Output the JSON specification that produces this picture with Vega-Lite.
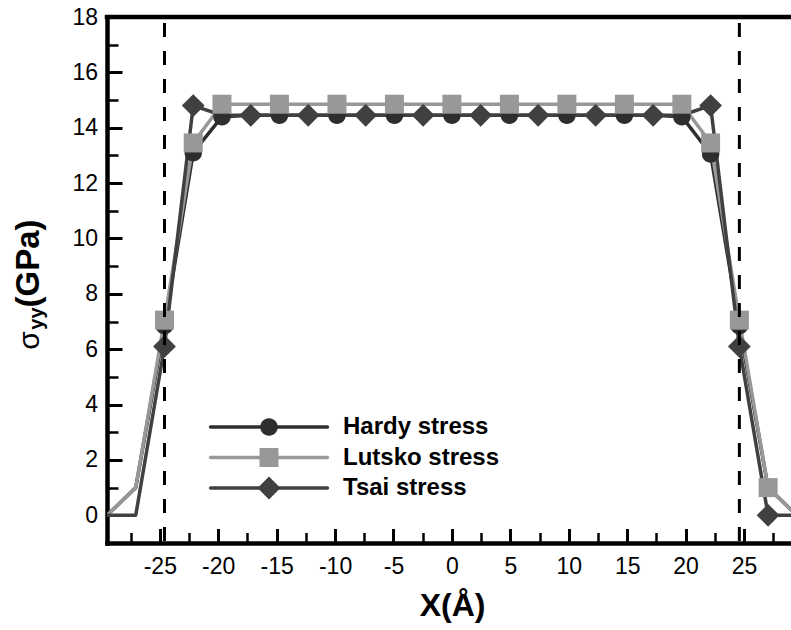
{
  "$schema": "https://vega.github.io/schema/vega-lite/v6.json",
  "width": 684,
  "height": 526,
  "autosize": {"type": "none"},
  "padding": {"left": 107, "top": 17, "right": 0, "bottom": 87},
  "background": "white",
  "config": {
    "view": {"stroke": null},
    "axis": {"grid": false, "labelFont": "Liberation Sans", "labelFontSize": 23, "labelColor": "black", "tickColor": "black", "domainColor": "black", "titleColor": "black"}
  },
  "datasets": {
    "curves": [
      {"series": "Hardy stress", "x": -29.52, "y": 0},
      {"series": "Hardy stress", "x": -27.06, "y": 1.0},
      {"series": "Hardy stress", "x": -24.6, "y": 6.85},
      {"series": "Hardy stress", "x": -22.14, "y": 13.1},
      {"series": "Hardy stress", "x": -19.68, "y": 14.4},
      {"series": "Hardy stress", "x": -17.22, "y": 14.45},
      {"series": "Hardy stress", "x": -14.76, "y": 14.45},
      {"series": "Hardy stress", "x": -12.3, "y": 14.45},
      {"series": "Hardy stress", "x": -9.84, "y": 14.45},
      {"series": "Hardy stress", "x": -7.38, "y": 14.45},
      {"series": "Hardy stress", "x": -4.92, "y": 14.45},
      {"series": "Hardy stress", "x": -2.46, "y": 14.45},
      {"series": "Hardy stress", "x": 0, "y": 14.45},
      {"series": "Hardy stress", "x": 2.46, "y": 14.45},
      {"series": "Hardy stress", "x": 4.92, "y": 14.45},
      {"series": "Hardy stress", "x": 7.38, "y": 14.45},
      {"series": "Hardy stress", "x": 9.84, "y": 14.45},
      {"series": "Hardy stress", "x": 12.3, "y": 14.45},
      {"series": "Hardy stress", "x": 14.76, "y": 14.45},
      {"series": "Hardy stress", "x": 17.22, "y": 14.45},
      {"series": "Hardy stress", "x": 19.68, "y": 14.4},
      {"series": "Hardy stress", "x": 22.14, "y": 13.05},
      {"series": "Hardy stress", "x": 24.6, "y": 6.85},
      {"series": "Hardy stress", "x": 27.06, "y": 1.0},
      {"series": "Hardy stress", "x": 29.52, "y": 0},
      {"series": "Lutsko stress", "x": -29.52, "y": 0},
      {"series": "Lutsko stress", "x": -27.06, "y": 1.0},
      {"series": "Lutsko stress", "x": -24.6, "y": 7.05},
      {"series": "Lutsko stress", "x": -22.14, "y": 13.45},
      {"series": "Lutsko stress", "x": -19.68, "y": 14.85},
      {"series": "Lutsko stress", "x": -17.22, "y": 14.85},
      {"series": "Lutsko stress", "x": -14.76, "y": 14.85},
      {"series": "Lutsko stress", "x": -12.3, "y": 14.85},
      {"series": "Lutsko stress", "x": -9.84, "y": 14.85},
      {"series": "Lutsko stress", "x": -7.38, "y": 14.85},
      {"series": "Lutsko stress", "x": -4.92, "y": 14.85},
      {"series": "Lutsko stress", "x": -2.46, "y": 14.85},
      {"series": "Lutsko stress", "x": 0, "y": 14.85},
      {"series": "Lutsko stress", "x": 2.46, "y": 14.85},
      {"series": "Lutsko stress", "x": 4.92, "y": 14.85},
      {"series": "Lutsko stress", "x": 7.38, "y": 14.85},
      {"series": "Lutsko stress", "x": 9.84, "y": 14.85},
      {"series": "Lutsko stress", "x": 12.3, "y": 14.85},
      {"series": "Lutsko stress", "x": 14.76, "y": 14.85},
      {"series": "Lutsko stress", "x": 17.22, "y": 14.85},
      {"series": "Lutsko stress", "x": 19.68, "y": 14.85},
      {"series": "Lutsko stress", "x": 22.14, "y": 13.45},
      {"series": "Lutsko stress", "x": 24.6, "y": 7.05},
      {"series": "Lutsko stress", "x": 27.06, "y": 1.0},
      {"series": "Lutsko stress", "x": 29.52, "y": 0},
      {"series": "Tsai stress", "x": -29.52, "y": 0},
      {"series": "Tsai stress", "x": -27.06, "y": 0},
      {"series": "Tsai stress", "x": -24.6, "y": 6.1},
      {"series": "Tsai stress", "x": -22.14, "y": 14.8},
      {"series": "Tsai stress", "x": -19.68, "y": 14.45},
      {"series": "Tsai stress", "x": -17.22, "y": 14.45},
      {"series": "Tsai stress", "x": -14.76, "y": 14.45},
      {"series": "Tsai stress", "x": -12.3, "y": 14.45},
      {"series": "Tsai stress", "x": -9.84, "y": 14.45},
      {"series": "Tsai stress", "x": -7.38, "y": 14.45},
      {"series": "Tsai stress", "x": -4.92, "y": 14.45},
      {"series": "Tsai stress", "x": -2.46, "y": 14.45},
      {"series": "Tsai stress", "x": 0, "y": 14.45},
      {"series": "Tsai stress", "x": 2.46, "y": 14.45},
      {"series": "Tsai stress", "x": 4.92, "y": 14.45},
      {"series": "Tsai stress", "x": 7.38, "y": 14.45},
      {"series": "Tsai stress", "x": 9.84, "y": 14.45},
      {"series": "Tsai stress", "x": 12.3, "y": 14.45},
      {"series": "Tsai stress", "x": 14.76, "y": 14.45},
      {"series": "Tsai stress", "x": 17.22, "y": 14.45},
      {"series": "Tsai stress", "x": 19.68, "y": 14.45},
      {"series": "Tsai stress", "x": 22.14, "y": 14.8},
      {"series": "Tsai stress", "x": 24.6, "y": 6.1},
      {"series": "Tsai stress", "x": 27.06, "y": 0},
      {"series": "Tsai stress", "x": 29.52, "y": 0}
    ],
    "symbols": [
      {"series": "Hardy stress", "x": -24.6, "y": 6.85},
      {"series": "Hardy stress", "x": -22.14, "y": 13.1},
      {"series": "Hardy stress", "x": -19.68, "y": 14.4},
      {"series": "Hardy stress", "x": -14.76, "y": 14.45},
      {"series": "Hardy stress", "x": -9.84, "y": 14.45},
      {"series": "Hardy stress", "x": -4.92, "y": 14.45},
      {"series": "Hardy stress", "x": 0, "y": 14.45},
      {"series": "Hardy stress", "x": 4.92, "y": 14.45},
      {"series": "Hardy stress", "x": 9.84, "y": 14.45},
      {"series": "Hardy stress", "x": 14.76, "y": 14.45},
      {"series": "Hardy stress", "x": 19.68, "y": 14.4},
      {"series": "Hardy stress", "x": 22.14, "y": 13.05},
      {"series": "Hardy stress", "x": 24.6, "y": 6.85},
      {"series": "Hardy stress", "x": 27.06, "y": 1.0},
      {"series": "Lutsko stress", "x": -24.6, "y": 7.05},
      {"series": "Lutsko stress", "x": -22.14, "y": 13.45},
      {"series": "Lutsko stress", "x": -19.68, "y": 14.85},
      {"series": "Lutsko stress", "x": -14.76, "y": 14.85},
      {"series": "Lutsko stress", "x": -9.84, "y": 14.85},
      {"series": "Lutsko stress", "x": -4.92, "y": 14.85},
      {"series": "Lutsko stress", "x": 0, "y": 14.85},
      {"series": "Lutsko stress", "x": 4.92, "y": 14.85},
      {"series": "Lutsko stress", "x": 9.84, "y": 14.85},
      {"series": "Lutsko stress", "x": 14.76, "y": 14.85},
      {"series": "Lutsko stress", "x": 19.68, "y": 14.85},
      {"series": "Lutsko stress", "x": 22.14, "y": 13.45},
      {"series": "Lutsko stress", "x": 24.6, "y": 7.05},
      {"series": "Lutsko stress", "x": 27.06, "y": 1.0},
      {"series": "Tsai stress", "x": -24.6, "y": 6.1},
      {"series": "Tsai stress", "x": -22.14, "y": 14.8},
      {"series": "Tsai stress", "x": -17.22, "y": 14.45},
      {"series": "Tsai stress", "x": -12.3, "y": 14.45},
      {"series": "Tsai stress", "x": -7.38, "y": 14.45},
      {"series": "Tsai stress", "x": -2.46, "y": 14.45},
      {"series": "Tsai stress", "x": 2.46, "y": 14.45},
      {"series": "Tsai stress", "x": 7.38, "y": 14.45},
      {"series": "Tsai stress", "x": 12.3, "y": 14.45},
      {"series": "Tsai stress", "x": 17.22, "y": 14.45},
      {"series": "Tsai stress", "x": 22.14, "y": 14.8},
      {"series": "Tsai stress", "x": 24.6, "y": 6.1},
      {"series": "Tsai stress", "x": 27.06, "y": 0}
    ],
    "interfaces": [
      {"x": -24.6},
      {"x": 24.6}
    ]
  },
  "layer": [
    {
      "data": {"name": "curves"},
      "mark": {"type": "line", "strokeWidth": 3.5, "strokeJoin": "round", "clip": true},
      "encoding": {
        "x": {
          "field": "x", "type": "quantitative",
          "scale": {"domain": [-29.52, 29.02], "nice": false, "zero": false},
          "axis": {
            "orient": "bottom",
            "values": [-25, -20, -15, -10, -5, 0, 5, 10, 15, 20, 25],
            "labelExpr": "toString(datum.value)",
            "tickSize": -14.5, "tickWidth": 3,
            "domain": true, "domainWidth": 4.5, "domainCap": "square",
            "labelPadding": 26.5, "labelFlush": false,
            "title": "X(Å)", "titleFont": "Liberation Sans", "titleFontSize": 32, "titleFontWeight": "bold",
            "titleX": 345, "titleY": 72, "titleBaseline": "alphabetic", "titleAlign": "center", "titleAngle": 0
          }
        },
        "y": {
          "field": "y", "type": "quantitative",
          "scale": {"domain": [-1, 18], "nice": false, "zero": false},
          "axis": {
            "orient": "left",
            "values": [0, 2, 4, 6, 8, 10, 12, 14, 16, 18],
            "labelExpr": "toString(datum.value)",
            "tickSize": -15, "tickWidth": 3,
            "domain": true, "domainWidth": 4.5, "domainCap": "square",
            "labelPadding": 24.5, "labelFlush": false,
            "title": "(GPa)", "titleFont": "Liberation Sans", "titleFontSize": 33, "titleFontWeight": "bold",
            "titleAngle": -90, "titleX": -69, "titleY": 290, "titleAlign": "left", "titleBaseline": "alphabetic"
          }
        },
        "stroke": {
          "field": "series", "type": "nominal",
          "scale": {"domain": ["Hardy stress", "Lutsko stress", "Tsai stress"], "range": ["#2e2e2e", "#989898", "#404040"]},
          "legend": {
            "orient": "none", "legendX": 150, "legendY": 398, "title": null, "padding": 0,
            "symbolType": "M-6.15,0L6.15,0", "symbolSize": 361, "symbolStrokeWidth": 3.5,
            "labelFont": "Liberation Sans", "labelFontSize": 24, "labelFontWeight": "bold", "labelColor": "black",
            "labelOffset": 62, "rowPadding": 6.5,
            "encode": {"symbols": {"update": {"strokeCap": {"value": "round"}}}}
          }
        },
        "detail": {"field": "series"}
      }
    },
    {
      "data": {"name": "symbols"},
      "mark": {"type": "point", "filled": true, "size": 361, "opacity": 1, "strokeWidth": 0},
      "encoding": {
        "x": {
          "field": "x", "type": "quantitative",
          "axis": {
            "orient": "bottom",
            "values": [-27.5, -22.5, -17.5, -12.5, -7.5, -2.5, 2.5, 7.5, 12.5, 17.5, 22.5, 27.5],
            "tickSize": -10.5, "tickWidth": 2.5, "labels": false, "domain": false, "title": null
          }
        },
        "y": {
          "field": "y", "type": "quantitative",
          "axis": {
            "orient": "left",
            "values": [1, 3, 5, 7, 9, 11, 13, 15, 17],
            "tickSize": -11, "tickWidth": 2.5, "labels": false, "domain": false,
            "title": "σ", "titleFont": "Liberation Sans", "titleFontSize": 30, "titleFontWeight": "normal",
            "titleAngle": -90, "titleX": -69, "titleY": 323, "titleAlign": "center", "titleBaseline": "alphabetic"
          }
        },
        "fill": {
          "field": "series", "type": "nominal",
          "scale": {"domain": ["Hardy stress", "Lutsko stress", "Tsai stress"], "range": ["#2e2e2e", "#989898", "#404040"]},
          "legend": {
            "orient": "none", "legendX": 150, "legendY": 398, "title": null, "padding": 0,
            "symbolSize": 361, "symbolStrokeWidth": 0, "symbolOpacity": 1,
            "labelFont": "Liberation Sans", "labelFontSize": 24, "labelFontWeight": "bold", "labelOpacity": 0,
            "labelOffset": 62, "rowPadding": 6.5
          }
        },
        "shape": {
          "field": "series", "type": "nominal",
          "scale": {"domain": ["Hardy stress", "Lutsko stress", "Tsai stress"], "range": ["M-0.92,0A0.92,0.92,0,1,1,0.92,0A0.92,0.92,0,1,1,-0.92,0Z", "square", "M-1.2,0L0,-1.2L1.2,0L0,1.2Z"]},
          "legend": {
            "orient": "none", "legendX": 150, "legendY": 398, "title": null, "padding": 0,
            "symbolSize": 361, "symbolStrokeWidth": 0, "symbolOpacity": 1,
            "labelFont": "Liberation Sans", "labelFontSize": 24, "labelFontWeight": "bold", "labelOpacity": 0,
            "labelOffset": 62, "rowPadding": 6.5
          }
        }
      }
    },
    {
      "data": {"name": "interfaces"},
      "mark": {"type": "rule", "color": "black", "strokeWidth": 3, "strokeDash": [14, 14], "strokeDashOffset": 22},
      "encoding": {
        "x": {"field": "x", "type": "quantitative", "axis": null},
        "y": {
          "datum": 18, "type": "quantitative",
          "axis": {
            "orient": "left", "ticks": false, "labels": false, "domain": false,
            "title": "yy", "titleFont": "Liberation Sans", "titleFontSize": 20, "titleFontWeight": "bold",
            "titleAngle": -90, "titleX": -65, "titleY": 301, "titleAlign": "center", "titleBaseline": "alphabetic"
          }
        },
        "y2": {"datum": -1}
      }
    },
    {
      "data": {"values": [{}]},
      "mark": {"type": "rule", "color": "black", "strokeWidth": 4.5, "strokeCap": "square"},
      "encoding": {
        "y": {"datum": 18, "type": "quantitative", "axis": null}
      }
    }
  ],
  "resolve": {
    "axis": {"x": "independent", "y": "independent"},
    "legend": {"stroke": "independent", "fill": "independent", "shape": "independent"}
  }
}
